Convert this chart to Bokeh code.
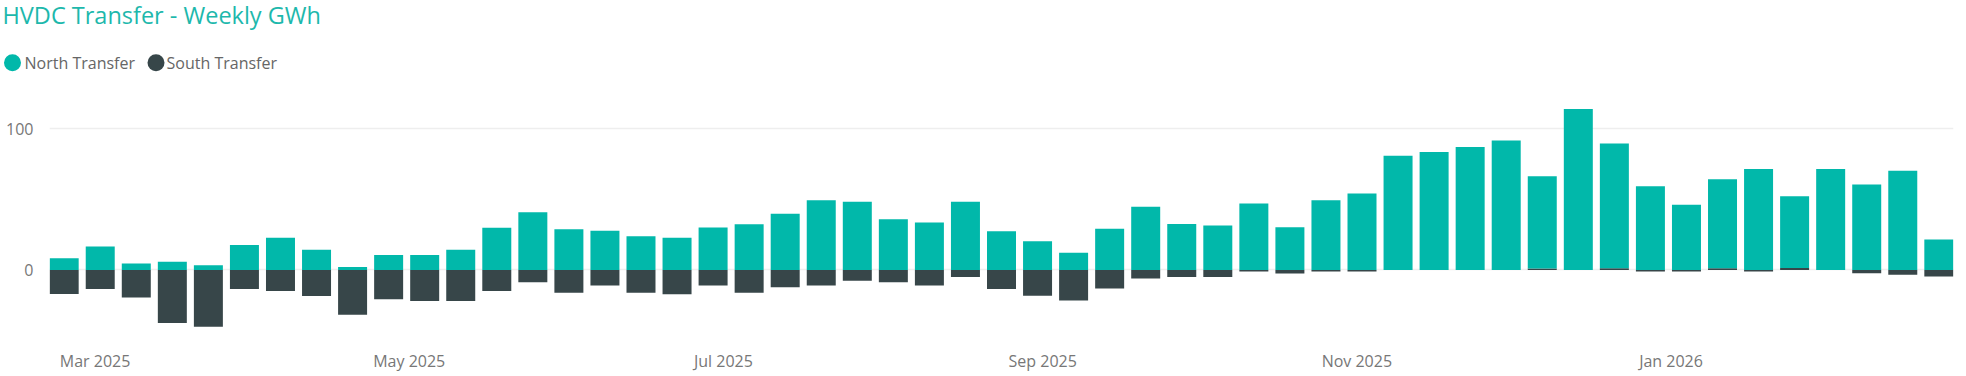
import pandas as pd
from bokeh.plotting import figure
from bokeh.models import Range1d, FixedTicker, ColumnDataSource, DatetimeTickFormatter
from bokeh.embed import file_html
from bokeh.resources import INLINE
from bokeh.core.properties import value

# ---------------- data ----------------
title_text = "HVDC Transfer - Weekly GWh"
series_names = ["North Transfer", "South Transfer"]
series_colors = ["#01B8AA", "#374649"]

first_week = "2025-02-23"
north = [8.3, 16.5, 4.5, 5.7, 3.3, 17.7, 22.7, 14.2, 2.1, 10.6,
         10.6, 14.2, 29.8, 40.9, 28.8, 27.7, 23.9, 22.7, 30.0, 32.4,
         39.7, 49.4, 48.2, 35.9, 33.6, 48.2, 27.4, 20.3, 12.1, 29.1,
         44.7, 32.6, 31.4, 47.0, 30.3, 49.4, 54.1, 80.9, 83.5, 87.0,
         91.7, 65.4, 114.0, 88.4, 59.3, 46.1, 63.1, 71.4, 50.8, 71.4,
         60.5, 70.2, 21.5]
south = [-17.0, -13.5, -19.6, -37.6, -40.2, -13.5, -14.9, -18.4, -31.7, -20.8,
         -22.0, -22.0, -14.9, -8.7, -16.1, -11.1, -16.1, -17.3, -11.1, -16.1,
         -12.3, -11.1, -7.6, -8.7, -11.1, -5.0, -13.5, -18.3, -21.7, -13.2,
         -6.1, -5.0, -5.0, -1.2, -2.6, -1.2, -1.2, 0.0, 0.0, 0.0,
         0.0, 1.0, 0.0, 1.2, -1.2, -1.2, 1.2, -1.2, 1.4, 0.0,
         -2.4, -3.5, -4.7]

month_ticks = ["2025-03-01", "2025-05-01", "2025-07-01", "2025-09-01", "2025-11-01", "2026-01-01"]
month_labels = ["Mar 2025", "May 2025", "Jul 2025", "Sep 2025", "Nov 2025", "Jan 2026"]
y_ticks = [0, 100]
y_labels = ["0", "100"]

# ---------------- derived ----------------
weeks = pd.date_range(first_week, periods=len(north), freq="7D")
north_bottom = [max(s, 0.0) for s in south]
north_top = [b + n for b, n in zip(north_bottom, north)]
src = ColumnDataSource(dict(week=weeks, nb=north_bottom, nt=north_top, south=south))

DAY = 86400000
bar_width = 5.63 * DAY
pad = pd.Timedelta(days=2.85)

FONT = "Open Sans"
HEAD_H = 100

# ---------------- header (title + legend), pixel coordinates ----------------
head = figure(width=1966, height=HEAD_H, x_range=Range1d(0, 1966), y_range=Range1d(HEAD_H, 0),
              x_axis_location=None, y_axis_location=None, toolbar_location=None,
              output_backend="svg", min_border=0)
head.outline_line_color = None
head.grid.grid_line_color = None
head.text(x=[2], y=[14], text=[title_text], text_font=value(FONT), text_font_size="23.5px",
          text_color="#1DB8AC", text_baseline="middle", text_align="left")
head.scatter(x=[12, 155.5], y=[62.3, 62.3], size=17, marker="circle",
             fill_color=series_colors, line_color=None)
head.text(x=[24, 166], y=[62.3, 62.3], text=series_names, text_font=value(FONT),
          text_font_size="16px", text_color="#666666", text_baseline="middle",
          text_align="left")

# ---------------- main chart ----------------
p = figure(width=1966, height=376 - HEAD_H, x_axis_type="datetime",
           x_range=Range1d(weeks[0] - pad, weeks[-1] + pad), y_range=Range1d(-50, 120),
           toolbar_location=None, output_backend="svg",
           min_border_left=49, min_border_right=13, min_border_top=0, min_border_bottom=36)
p.outline_line_color = None

p.vbar(x="week", width=bar_width, bottom=0, top="south", source=src,
       fill_color=series_colors[1], line_color=None)
p.vbar(x="week", width=bar_width, bottom="nb", top="nt", source=src,
       fill_color=series_colors[0], line_color=None)

tick_ms = [int(pd.Timestamp(t).value // 10**6) for t in month_ticks]
p.xaxis.ticker = FixedTicker(ticks=tick_ms)
p.xaxis.formatter = DatetimeTickFormatter(days="%b %Y", months="%b %Y", years="%b %Y")
p.xaxis.major_label_overrides = {ms: lab for ms, lab in zip(tick_ms, month_labels)}
p.yaxis.ticker = FixedTicker(ticks=y_ticks)
p.yaxis.major_label_overrides = {t: lab for t, lab in zip(y_ticks, y_labels)}

for ax in (p.xaxis, p.yaxis):
    ax.axis_line_color = None
    ax.major_tick_line_color = None
    ax.minor_tick_line_color = None
    ax.major_tick_out = 0
    ax.major_tick_in = 0
    ax.major_label_text_font = FONT
    ax.major_label_text_font_size = "16px"
    ax.major_label_text_color = "#777777"
p.yaxis.major_label_standoff = 16
p.xaxis.major_label_standoff = 9

p.xgrid.grid_line_color = None
p.ygrid.grid_line_color = "#EEEEEE"
p.ygrid.grid_line_width = 1.5

open("out.html", "w").write(file_html([head, p], INLINE))
